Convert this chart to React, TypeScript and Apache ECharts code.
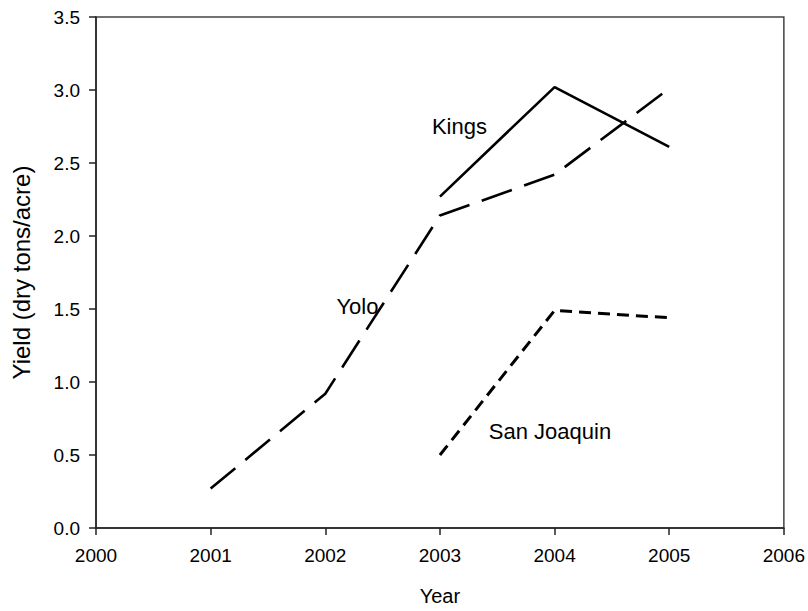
import React, { useEffect, useRef } from "react";
import * as echarts from "echarts";

const years = [2000, 2001, 2002, 2003, 2004, 2005, 2006];
const yoloYears = [2001, 2002, 2003, 2004, 2005];
const yoloYield = [0.27, 0.92, 2.14, 2.42, 3.01];
const kingsYears = [2003, 2004, 2005];
const kingsYield = [2.27, 3.02, 2.61];
const sjYears = [2003, 2004, 2005];
const sjYield = [0.5, 1.49, 1.44];
const labels = [
  { name: "Kings", x: 2003.17, y: 2.75 },
  { name: "Yolo", x: 2002.28, y: 1.52 },
  { name: "San Joaquin", x: 2003.96, y: 0.66 },
];

const FONT = "Liberation Sans, Arial, Helvetica, sans-serif";

export default function App() {
  const ref = useRef<HTMLDivElement>(null);
  useEffect(() => {
    if (!ref.current) return;
    const chart = echarts.init(ref.current, undefined, { renderer: "svg" });
    const pair = (xs: number[], ys: number[]) => xs.map((x, i) => [x, ys[i]]);
    chart.setOption({
      animation: false,
      backgroundColor: "#ffffff",
      grid: {
        left: 96,
        right: 24,
        top: 17,
        bottom: 82,
        show: true,
        borderColor: "#444",
        borderWidth: 1.5,
      },
      xAxis: {
        type: "value",
        min: years[0],
        max: years[years.length - 1],
        interval: 1,
        name: "Year",
        nameLocation: "middle",
        nameGap: 58,
        nameTextStyle: { fontFamily: FONT, fontSize: 20, color: "#000" },
        axisLine: { show: true, onZero: false, lineStyle: { color: "#222", width: 1.5 } },
        axisTick: { show: true, inside: false, length: 7, lineStyle: { color: "#222", width: 1.5 } },
        axisLabel: {
          fontFamily: FONT,
          fontSize: 19,
          color: "#000",
          margin: 18,
          formatter: (v: number) => String(v),
        },
        splitLine: { show: false },
      },
      yAxis: {
        type: "value",
        min: 0,
        max: 3.5,
        interval: 0.5,
        name: "Yield (dry tons/acre)",
        nameLocation: "middle",
        nameGap: 63,
        nameTextStyle: { fontFamily: FONT, fontSize: 24, color: "#000" },
        axisLine: { show: true, lineStyle: { color: "#222", width: 1.5 } },
        axisTick: { show: true, inside: false, length: 7, lineStyle: { color: "#222", width: 1.5 } },
        axisLabel: {
          fontFamily: FONT,
          fontSize: 19,
          color: "#000",
          margin: 16,
          formatter: (v: number) => v.toFixed(1),
        },
        splitLine: { show: false },
      },
      series: [
        {
          name: "Yolo",
          type: "line",
          data: pair(yoloYears, yoloYield),
          symbol: "none",
          lineStyle: { color: "#000", width: 2.6, type: [32, 13] },
        },
        {
          name: "Kings",
          type: "line",
          data: pair(kingsYears, kingsYield),
          symbol: "none",
          lineStyle: { color: "#000", width: 2.6, type: "solid" },
        },
        {
          name: "San Joaquin",
          type: "line",
          data: pair(sjYears, sjYield),
          symbol: "none",
          lineStyle: { color: "#000", width: 3, type: [12, 7] },
        },
        {
          name: "labels",
          type: "scatter",
          symbolSize: 0,
          itemStyle: { opacity: 1, color: "#000" },
          data: labels.map((l) => ({ name: l.name, value: [l.x, l.y] })),
          label: {
            show: true,
            position: "inside",
            formatter: (p: any) => p.name,
            fontFamily: FONT,
            fontSize: 22,
            color: "#000",
            opacity: 1,
            textBorderWidth: 0,
          },
          silent: true,
        },
      ],
    });
    return () => chart.dispose();
  }, []);
  return (
    <div
      ref={ref}
      style={{ position: "absolute", left: 0, top: 0, width: 808, height: 611 }}
    />
  );
}
